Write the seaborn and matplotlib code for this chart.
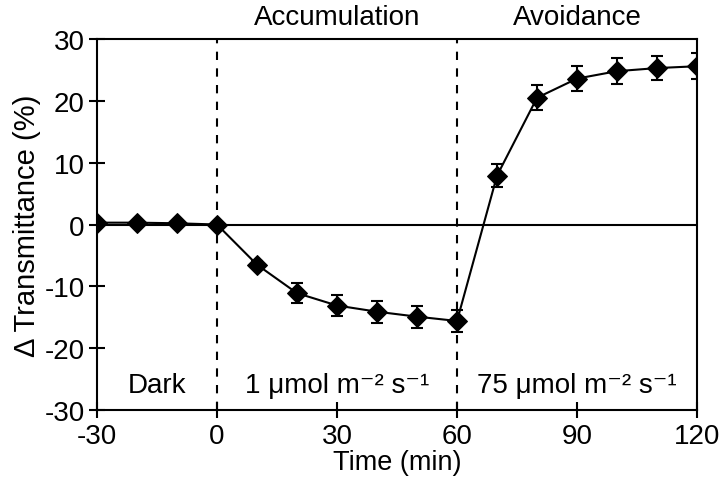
import seaborn as sns
from matplotlib import pyplot as plt
import pandas as pd

time_min = [-30, -20, -10, 0, 10, 20, 30, 40, 50, 60, 70, 80, 90, 100, 110, 120]
delta_t = [0.3, 0.3, 0.2, 0.0, -6.5, -11.1, -13.1, -14.1, -14.9, -15.6, 7.9, 20.5, 23.6, 24.8, 25.3, 25.6]
sem = [0.2, 0.2, 0.2, 0.2, 0.6, 1.6, 1.7, 1.8, 1.8, 1.8, 1.9, 2.0, 2.0, 2.1, 1.9, 2.1]

phase_titles = ['Accumulation', 'Avoidance']
phase_x = [30, 90]
light_labels = ['Dark', '1 μmol m⁻² s⁻¹', '75 μmol m⁻² s⁻¹']
light_x = [-15, 30, 90]

df = pd.DataFrame({'time': time_min, 'dt': delta_t, 'sem': sem})

sns.set_style("ticks")
plt.rcParams['font.family'] = ['Liberation Sans', 'DejaVu Sans']
plt.rcParams['axes.unicode_minus'] = False
plt.rcParams['text.color'] = 'black'
plt.rcParams['axes.labelcolor'] = 'black'

fig = plt.figure(figsize=(7.25, 4.81), dpi=100)
ax = fig.add_axes([0.1338, 0.1455, 0.8276, 0.7713])

ax.axhline(0, color='black', lw=1.5, zorder=1)
for xv in [0, 60]:
    ax.axvline(xv, color='black', lw=1.5, ls=(0, (4, 4)), zorder=1)

ax.errorbar(df['time'], df['dt'], yerr=df['sem'], fmt='none', ecolor='black',
            elinewidth=1.5, capsize=4, capthick=1.5, zorder=2)
sns.lineplot(data=df, x='time', y='dt', ax=ax, color='black', lw=1.5,
             marker='D', markersize=10, markeredgecolor='black', zorder=3)

ax.set_xlim(-30, 120)
ax.set_ylim(-30, 30)
ax.set_xticks([-30, 0, 30, 60, 90, 120])
ax.set_yticks([-30, -20, -10, 0, 10, 20, 30])
ax.tick_params(direction='inout', length=12, width=1.5, labelsize=20, colors='black')
ax.tick_params(axis='y', pad=3)
ax.tick_params(axis='x', pad=3)
for s in ax.spines.values():
    s.set_linewidth(1.5)
    s.set_color('black')

ax.set_xlabel('Time (min)', fontsize=19.5, labelpad=0)
ax.set_ylabel('Δ Transmittance (%)', fontsize=21, labelpad=2)

for t, xv in zip(phase_titles, phase_x):
    ax.text(xv, 31.5, t, ha='center', va='bottom', fontsize=20)
for t, xv in zip(light_labels, light_x):
    ax.text(xv, -26, t, ha='center', va='center', fontsize=20)

fig.savefig('out.png', dpi=100)
